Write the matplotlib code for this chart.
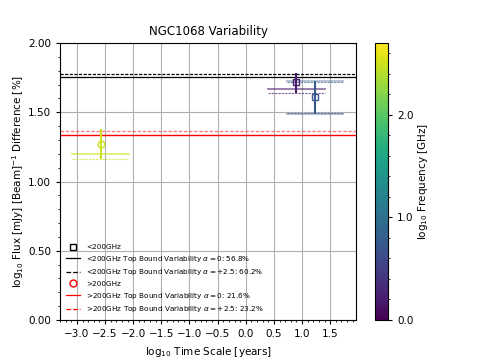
import numpy as np
import matplotlib
matplotlib.use("Agg")
import matplotlib.pyplot as plt
from matplotlib.lines import Line2D
from matplotlib.ticker import MultipleLocator

# data
time_scale = [0.90, 1.23, -2.58]          # log10 years
flux_diff = [1.716, 1.608, 1.268]          # log10 %
err_low = [0.075, 0.121, 0.108]
err_high = [0.070, 0.118, 0.112]
freq = [0.20, 0.75, 2.48]                  # log10 GHz
markers = ['s', 's', 'o']

# per-point horizontal bound lines
band_point = [0, 0, 1, 1, 2, 2]
band_y = [1.668, 1.641, 1.726, 1.487, 1.196, 1.160]
band_x0 = [0.40, 0.40, 0.73, 0.73, -3.08, -3.08]
band_x1 = [1.40, 1.40, 1.72, 1.72, -2.07, -2.07]
band_y2 = [None, None, 1.716, 1.493, None, None]

low_a0 = 56.8
low_a25 = 60.2
high_a0 = 21.6
high_a25 = 23.2

vmin, vmax = 0.0, 2.7
cmap = plt.get_cmap('viridis')
norm = matplotlib.colors.Normalize(vmin, vmax)

fig = plt.figure(figsize=(4.78, 3.59), dpi=100)
ax = fig.add_axes([0.1255, 0.1086, 0.6195, 0.7714])
cax = fig.add_axes([0.7845, 0.1086, 0.0272, 0.7714])

ax.grid(True, color='#b0b0b0', linewidth=0.8, zorder=0)

ax.axhline(np.log10(low_a0), color='black', lw=0.9, ls='-')
ax.axhline(np.log10(low_a25), color='black', lw=0.9, ls='--', dashes=(2.5, 1.2))
ax.axhline(np.log10(high_a0), color='red', lw=1.0, ls='-')
ax.axhline(np.log10(high_a25), color='red', lw=1.0, ls='--', dashes=(2.5, 1.2), alpha=0.5)

solid_idx = [0, 2, 4]
for k in range(len(band_y)):
    c = cmap(norm(freq[band_point[k]]))
    if k in (2, 3):
        ax.plot([band_x0[k], band_x1[k]], [band_y[k], band_y[k]], color=c, lw=1.5, alpha=0.35, zorder=2)
        ax.plot([band_x0[k], band_x1[k]], [band_y2[k], band_y2[k]], color=c, lw=0.8, ls='--', dashes=(2, 1), alpha=0.7, zorder=2)
    elif k in solid_idx:
        ax.plot([band_x0[k], band_x1[k]], [band_y[k], band_y[k]], color=c, lw=1.3, alpha=0.6, zorder=2)
    else:
        ax.plot([band_x0[k], band_x1[k]], [band_y[k], band_y[k]], color=c, lw=0.8, ls='--', dashes=(2, 1), alpha=0.7, zorder=2)

for i in range(len(time_scale)):
    c = cmap(norm(freq[i]))
    ax.errorbar(time_scale[i], flux_diff[i], yerr=[[err_low[i]], [err_high[i]]],
                fmt=markers[i], mfc='none', mec=c, ecolor=c, ms=4.8, mew=1.0,
                elinewidth=1.5, zorder=4)

ax.set_xlim(-3.3, 1.96)
ax.set_ylim(0, 2.0)
ax.xaxis.set_major_locator(MultipleLocator(0.5))
ax.xaxis.set_minor_locator(MultipleLocator(0.1))
ax.yaxis.set_major_locator(MultipleLocator(0.5))
ax.yaxis.set_minor_locator(MultipleLocator(0.1))
ax.yaxis.set_major_formatter(matplotlib.ticker.FormatStrFormatter('%.2f'))
ax.tick_params(labelsize=7.5, length=3)
ax.tick_params(which='minor', length=1.7)
ax.set_xlabel(r'log$_{10}$ Time Scale [years]', fontsize=7.5)
ax.set_ylabel(r'log$_{10}$ Flux [mJy] [Beam]$^{-1}$ Difference [%]', fontsize=7.5, labelpad=1)
ax.set_title('NGC1068 Variability', fontsize=8.5)

handles = [
    Line2D([], [], marker='s', mfc='none', mec='black', ls='none', ms=5),
    Line2D([], [], color='black', lw=0.9),
    Line2D([], [], color='black', lw=0.9, ls='--'),
    Line2D([], [], marker='o', mfc='none', mec='red', ls='none', ms=5),
    Line2D([], [], color='red', lw=0.9),
    Line2D([], [], color='red', lw=0.9, ls='--'),
]
labels = [
    '<200GHz',
    r'<200GHz Top Bound Variability $\alpha = 0$: ' + f'{low_a0}%',
    r'<200GHz Top Bound Variability $\alpha = +2.5$: ' + f'{low_a25}%',
    '>200GHz',
    r'>200GHz Top Bound Variability $\alpha = 0$: ' + f'{high_a0}%',
    r'>200GHz Top Bound Variability $\alpha = +2.5$: ' + f'{high_a25}%',
]
ax.legend(handles, labels, loc='lower left', frameon=False, fontsize=5.2,
          handlelength=2.0, labelspacing=0.5, borderaxespad=0.4)

sm = matplotlib.cm.ScalarMappable(norm=norm, cmap=cmap)
cb = fig.colorbar(sm, cax=cax)
cb.set_ticks([0.0, 1.0, 2.0])
cb.ax.yaxis.set_major_formatter(matplotlib.ticker.FormatStrFormatter('%.1f'))
cb.ax.yaxis.set_minor_locator(MultipleLocator(0.2))
cb.ax.tick_params(labelsize=7.5, length=3)
cb.ax.tick_params(which='minor', length=1.7)
cb.set_label(r'log$_{10}$ Frequency [GHz]', fontsize=7.5, labelpad=2)

fig.savefig('out.png', dpi=100)
